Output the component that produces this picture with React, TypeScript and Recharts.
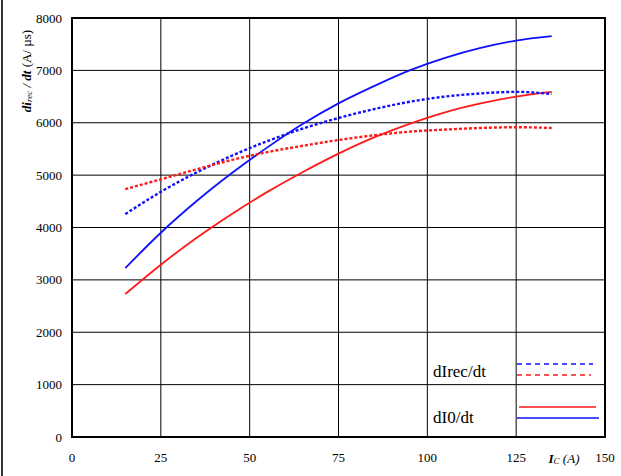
import React from 'react';
import { LineChart, Line, XAxis, YAxis, CartesianGrid, Legend, ReferenceArea } from 'recharts';

// collector current I_C (A)
const currents = [15, 25, 35, 45, 55, 65, 75, 85, 95, 105, 115, 125, 135];
// dIrec/dt (A/us)
const dIrecBlue = [4256, 4680, 5050, 5370, 5650, 5890, 6090, 6260, 6400, 6500, 6560, 6590, 6550];
const dIrecRed = [4733, 4920, 5110, 5290, 5440, 5560, 5670, 5760, 5830, 5870, 5900, 5915, 5900];
// dI0/dt (A/us)
const dI0Blue = [3225, 3900, 4500, 5040, 5530, 5980, 6370, 6700, 7000, 7240, 7430, 7570, 7655];
const dI0Red = [2730, 3290, 3800, 4260, 4680, 5060, 5410, 5720, 5980, 6200, 6370, 6500, 6590];

const xTicks = [0, 25, 50, 75, 100, 125, 150];
const yTicks = [0, 1000, 2000, 3000, 4000, 5000, 6000, 7000, 8000];

const BLUE = '#1010ff';
const RED = '#ff1a1a';
const FONT = '"Liberation Serif", "Times New Roman", serif';

const data = currents.map((ic, i) => ({
  ic,
  recBlue: dIrecBlue[i],
  recRed: dIrecRed[i],
  i0Blue: dI0Blue[i],
  i0Red: dI0Red[i],
}));

function YTitle() {
  return (
    <text
      transform="translate(26,71) rotate(-90)"
      textAnchor="middle"
      dominantBaseline="central"
      fontFamily={FONT}
      fontSize={13}
      fill="#000"
    >
      <tspan fontWeight="bold" fontStyle="italic">di</tspan>
      <tspan fontStyle="italic" fontSize={9} dy={3}>rec</tspan>
      <tspan fontWeight="bold" fontStyle="italic" dy={-3}> / dt </tspan>
      <tspan>(A/ µs)</tspan>
    </text>
  );
}

function XTitle() {
  return (
    <text x={564} y={458} textAnchor="middle" dominantBaseline="central" fontFamily={FONT} fontSize={13} fill="#000">
      <tspan fontWeight="bold" fontStyle="italic">I</tspan>
      <tspan fontStyle="italic" fontSize={9} dy={3}>C</tspan>
      <tspan fontStyle="italic" dy={-3}> (A)</tspan>
    </text>
  );
}

function LegendBox({ payload }: any) {
  const col = (key: string) => (payload || []).find((p: any) => p.dataKey === key)?.color;
  return (
    <svg width={190} height={80} style={{ display: 'block' }}>
      <text x={8} y={27} fontFamily={FONT} fontSize={17} fill="#000">dIrec/dt</text>
      <line x1={92} x2={168} y1={14} y2={14} stroke={col('recBlue')} strokeWidth={1.5} strokeDasharray="5 4" />
      <line x1={92} x2={166} y1={25} y2={25} stroke={col('recRed')} strokeWidth={1.5} strokeDasharray="5 4" />
      <text x={8} y={73} fontFamily={FONT} fontSize={17} fill="#000">dI0/dt</text>
      <line x1={94} x2={171} y1={57} y2={57} stroke={col('i0Red')} strokeWidth={1.6} />
      <line x1={92} x2={174} y1={68} y2={68} stroke={col('i0Blue')} strokeWidth={1.6} />
    </svg>
  );
}

export default function App() {
  return (
    <div style={{ position: 'absolute', left: 0, top: 0, width: 621, height: 476, background: '#fff' }}>
      <div style={{ position: 'absolute', left: 1, top: 0, width: 2, height: 476, background: '#333' }} />
      <LineChart width={621} height={476} data={data} margin={{ top: 18, right: 16, bottom: 0, left: 0 }}>
        <CartesianGrid stroke="#000" strokeWidth={1} />
        <XAxis
          dataKey="ic"
          type="number"
          domain={[0, 150]}
          ticks={xTicks}
          height={39}
          tickLine={false}
          axisLine={false}
          tickMargin={10}
          tick={{ fill: '#000', fontSize: 13, fontFamily: FONT }}
          tickFormatter={(v: number) => (v === 125 ? '125' : String(v))}
          label={<XTitle />}
        />
        <YAxis
          type="number"
          domain={[0, 8000]}
          ticks={yTicks}
          width={72}
          tickLine={false}
          axisLine={false}
          tickMargin={4}
          tick={{ fill: '#000', fontSize: 13, fontFamily: FONT }}
          label={<YTitle />}
        />
        <ReferenceArea x1={0} x2={150} y1={0} y2={8000} fill="none" stroke="#000" strokeWidth={2} ifOverflow="visible" />
        <Line dataKey="i0Blue" stroke={BLUE} strokeWidth={1.8} dot={false} type="monotone" isAnimationActive={false} />
        <Line dataKey="i0Red" stroke={RED} strokeWidth={1.8} dot={false} type="monotone" isAnimationActive={false} />
        <Line dataKey="recBlue" stroke={BLUE} strokeWidth={2.4} strokeDasharray="3 2" dot={false} type="monotone" isAnimationActive={false} />
        <Line dataKey="recRed" stroke={RED} strokeWidth={2.4} strokeDasharray="3 2" dot={false} type="monotone" isAnimationActive={false} />
        <Legend
          layout="vertical"
          align="center"
          verticalAlign="middle"
          content={<LegendBox />}
          wrapperStyle={{ left: 425, top: 350, width: 190, height: 80 }}
        />
      </LineChart>
    </div>
  );
}
